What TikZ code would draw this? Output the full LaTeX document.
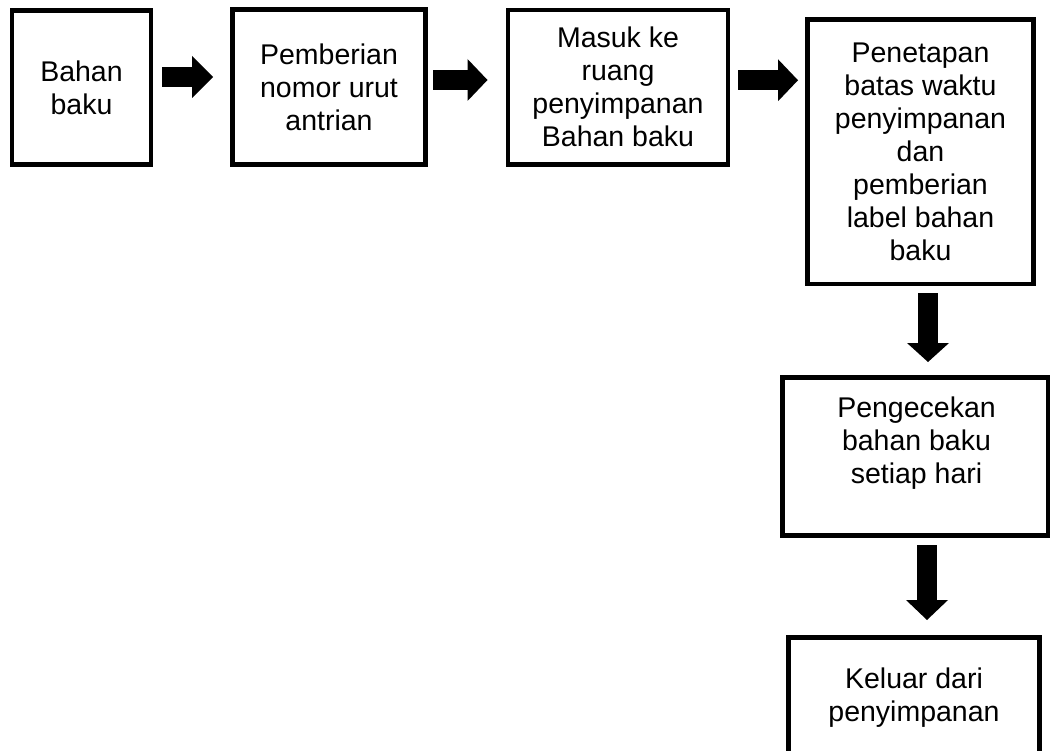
\documentclass[tikz,border=0pt]{standalone}
\usepackage{fontspec}
\setmainfont{Liberation Sans}
\usetikzlibrary{arrows.meta,calc}
\begin{document}
\begin{tikzpicture}[x=1pt,y=-1pt,
  box/.style={draw, line width=4.5pt, inner sep=0pt, outer sep=0pt,
    align=center, font=\fontsize{28.5}{33}\selectfont},
  txt/.style={inner sep=0pt, outer sep=0pt, align=center,
    font=\fontsize{28.5}{33}\selectfont},
  flow/.style={line width=20pt,
    -{Triangle[length=#1,width=42pt,line width=0pt]}},
  flow/.default=21pt
]
\useasboundingbox (0,0) rectangle (1051,751);
\clip (0,0) rectangle (1051,751);

% process boxes
\node[box, minimum width=139pt, minimum height=154pt] (b1) at (81.5,87.5)
  {Bahan\\baku};
\node[box, minimum width=193pt, minimum height=155pt] (b2) at (329,87)
  {Pemberian\\nomor urut\\antrian};
\node[box, minimum width=220pt, minimum height=154.5pt] (b3) at (618,87.25)
  {Masuk ke\\ruang\\penyimpanan\\Bahan baku};
\node[box, minimum width=226pt, minimum height=264.5pt] (b4) at (920.5,151.75)
  {Penetapan\\batas waktu\\penyimpanan\\dan\\pemberian\\label bahan\\baku};
\node[box, minimum width=265.5pt, minimum height=158pt] (b5) at (915.25,456.5) {};
\node[box, minimum width=251pt, minimum height=250pt] (b6) at (914,762.5) {};

% texts of the lower boxes sit near their top edge
\node[txt, anchor=north] (t5) at (916.5,397.3) {Pengecekan\\bahan baku\\setiap hari};
\node[txt, anchor=north] (t6) at (914,668.3) {Keluar dari\\penyimpanan};

% block arrows between the steps
\coordinate (a1s) at ([yshift=10.5pt]b1.east);
\coordinate (a2s) at ([yshift=7pt]b2.east);
\coordinate (a3s) at ([yshift=7pt]b3.east);
\coordinate (d1s) at ([xshift=7.5pt]b4.south);
\coordinate (d2s) at ([xshift=11.75pt]b5.south);

\draw[flow, shorten <=11pt, shorten >=19.5pt] (a1s) -- (a1s -| b2.west);
\draw[flow=20pt, shorten <=7.5pt, shorten >=20.5pt] (a2s) -- (a2s -| b3.west);
\draw[flow=20pt, shorten <=10pt, shorten >=9.5pt] (a3s) -- (a3s -| b4.west);
\draw[flow=19pt, shorten <=9pt, shorten >=15.5pt] (d1s) -- (d1s |- b5.north);
\draw[flow=20pt, shorten <=9.5pt, shorten >=17.5pt] (d2s) -- (d2s |- b6.north);
\end{tikzpicture}
\end{document}
